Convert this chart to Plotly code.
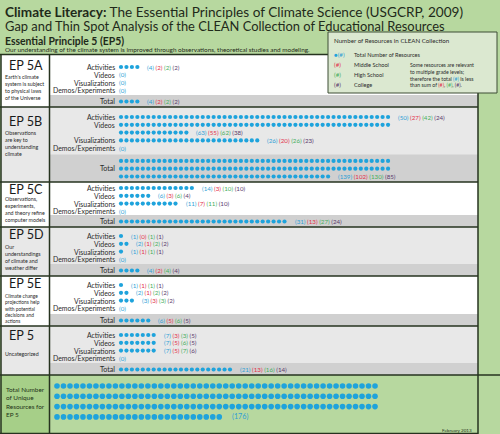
import math
import plotly.graph_objects as go

# ---------------- data ----------------
principle_codes = ["EP 5A", "EP 5B", "EP 5C", "EP 5D", "EP 5E", "EP 5"]
principle_descriptions = [
    ["Earth's climate", "system is subject", "to physical laws", "of the Universe"],
    ["Observations", "are key to", "understanding", "climate"],
    ["Observations,", "experiments,", "and theory refine", "computer models"],
    ["Our", "understandings", "of climate and", "weather differ"],
    ["Climate change", "projections help", "with potential", "decisions and", "actions"],
    ["Uncategorized"],
]
resource_types = ["Activities", "Videos", "Visualizations", "Demos/Experiments"]

total_by_type = [[4, 0, 0, 0], [50, 63, 26, 0], [14, 6, 11, 0],
                 [1, 2, 1, 0], [1, 2, 3, 0], [7, 7, 7, 0]]
middle_by_type = [[2, 0, 0, 0], [27, 55, 20, 0], [3, 3, 7, 0],
                  [0, 1, 1, 0], [1, 1, 3, 0], [3, 5, 5, 0]]
high_by_type = [[2, 0, 0, 0], [42, 62, 26, 0], [10, 6, 11, 0],
                [1, 2, 1, 0], [1, 2, 3, 0], [3, 6, 7, 0]]
college_by_type = [[2, 0, 0, 0], [24, 38, 23, 0], [10, 4, 10, 0],
                   [1, 2, 1, 0], [1, 2, 2, 0], [5, 5, 6, 0]]

section_total = [4, 139, 31, 4, 6, 21]
section_middle = [2, 102, 13, 2, 5, 13]
section_high = [2, 130, 27, 4, 6, 16]
section_college = [2, 85, 24, 4, 5, 14]

unique_total = 176

# ---------------- styling / layout constants ----------------
W, H = 500, 434
GREEN = "#b7d89f"
GREEN_DARK = "#a6cf88"
LINE = "#26331f"
GRAY_L = "#e8e8e8"
GRAY_T = "#d0d0d0"
BLUE = "#1ea3dc"
C_BLUE = "#2f9fd6"
C_RED = "#e2304a"
C_GREEN = "#45ae5c"
C_PURPLE = "#5a3a6c"
TXT = "#2a2a2a"
FONT = "Lato"

section_top = [55, 107, 182, 227, 276, 326]
section_bottom = [107, 182, 227, 276, 326, 375]
section_fill = ["#ffffff", GRAY_L, "#ffffff", GRAY_L, "#ffffff", GRAY_L]
first_row_y = [67, 117, 188, 236, 285, 335]
code_y = [65, 121, 189, 234, 283, 335]
desc_y = [73, 129, 195, 243, 292, 350]
desc_size = [5.3, 5.3, 5.3, 5.3, 4.9, 5.3]
PITCH = 7.8
DOT_X0 = 121
DOT_DX = 5.45
PER_ROW = 50
LABEL_X = 116

shapes = []
annotations = []


def rect(x0, y0, x1, y1, fill, lw=0, lc=None, layer="below"):
    shapes.append(dict(type="rect", xref="x", yref="y", x0=x0, y0=y0, x1=x1, y1=y1,
                       fillcolor=fill, line=dict(width=lw, color=lc or fill), layer=layer))


def line(x0, y0, x1, y1, color=LINE, w=1.5, layer="below"):
    shapes.append(dict(type="line", xref="x", yref="y", x0=x0, y0=y0, x1=x1, y1=y1,
                       line=dict(color=color, width=w), layer=layer))


def text(x, y, s, size, color=TXT, xanchor="left", yanchor="middle", family=FONT, align="left"):
    annotations.append(dict(x=x, y=y, xref="x", yref="y", text=s, showarrow=False,
                            xanchor=xanchor, yanchor=yanchor, align=align,
                            font=dict(size=size, color=color, family=family), borderpad=0))


def counts_text(t, m, h, c):
    if t == 0:
        return f"<span style='color:{C_BLUE}'>(0)</span>"
    return (f"<span style='color:{C_BLUE}'>({t})</span> "
            f"<span style='color:{C_RED}'>({m})</span> "
            f"<span style='color:{C_GREEN}'>({h})</span> "
            f"<span style='color:{C_PURPLE}'>({c})</span>")


dot_x, dot_y = [], []


def add_dots(n, y0):
    """place n dots starting at row y0; return y of last row and x of last dot"""
    for i in range(n):
        dot_x.append(DOT_X0 + DOT_DX * (i % PER_ROW))
        dot_y.append(y0 + PITCH * (i // PER_ROW))
    if n == 0:
        return y0, None
    last = n - 1
    return y0 + PITCH * (last // PER_ROW), DOT_X0 + DOT_DX * (last % PER_ROW)


# ---------------- backgrounds ----------------
for s in range(len(principle_codes)):
    top, bot = section_top[s], section_bottom[s]
    rect(1, top, 478, bot, section_fill[s])

# totals bands
total_rows_y = []
for s in range(len(principle_codes)):
    nrows = max(1, math.ceil(section_total[s] / PER_ROW))
    last_y = section_bottom[s] - 5.5
    ys = [last_y - PITCH * (nrows - 1 - i) for i in range(nrows)]
    total_rows_y.append(ys)
    rect(49.5, ys[0] - 6.5, 478, section_bottom[s], GRAY_T)

# bottom unique section
rect(1, 375, 49.5, 434, GREEN_DARK)

# lines
for s in range(len(principle_codes)):
    line(0, section_bottom[s], 478, section_bottom[s])
line(0, 54.5, 330, 54.5)
line(1, 54.5, 1, 434)
line(49.5, 54.5, 49.5, 434)
line(478, 54.5, 478, 434)
line(478, 375, 500, 375)
line(0, 433.5, 478, 433.5)

# ---------------- rows ----------------
for s in range(len(principle_codes)):
    y = first_row_y[s]
    for k, rtype in enumerate(resource_types):
        n = total_by_type[s][k]
        text(LABEL_X, y, rtype, 6.9, xanchor="right")
        last_y, last_x = add_dots(n, y)
        tx = 118 if last_x is None else last_x + 9
        text(tx, last_y, counts_text(n, middle_by_type[s][k], high_by_type[s][k],
                                     college_by_type[s][k]), 6.2)
        y += PITCH * max(1, math.ceil(n / PER_ROW))
    ys = total_rows_y[s]
    text(LABEL_X, sum(ys) / len(ys), "Total", 7.1, xanchor="right")
    _, last_x = add_dots(section_total[s], ys[0])
    text(last_x + 9, ys[-1], counts_text(section_total[s], section_middle[s],
                                          section_high[s], section_college[s]), 6.2)
    # left column
    text(8, code_y[s], principle_codes[s], 12.6, color="#1a1a1a")
    text(4, desc_y[s], "<br>".join(principle_descriptions[s]), desc_size[s],
         color="#2a2a2a", yanchor="top")

fig = go.Figure()
fig.add_trace(go.Scatter(x=dot_x, y=dot_y, mode="markers",
                         marker=dict(size=4.2, color=BLUE, line=dict(width=0)),
                         hoverinfo="skip", showlegend=False))

# unique total dots
U_X0, U_DX, U_Y0, U_DY = 57, 6.49, 386, 10.3
ux, uy = [], []
for i in range(unique_total):
    ux.append(U_X0 + U_DX * (i % PER_ROW))
    uy.append(U_Y0 + U_DY * (i // PER_ROW))
fig.add_trace(go.Scatter(x=ux, y=uy, mode="markers",
                         marker=dict(size=5.6, color=BLUE, line=dict(width=0)),
                         hoverinfo="skip", showlegend=False))
text(ux[-1] + 12, uy[-1], f"({unique_total})", 7.2, color=C_BLUE)
text(5, 385, "Total Number<br>of Unique<br>Resources for<br>EP 5", 6.4,
     color="#1f3318", yanchor="top")
text(473, 430, "February 2013", 4.6, color="#1f3318", xanchor="right")

# ---------------- header ----------------
text(4, 12, "<b>Climate Literacy:</b> The Essential Principles of Climate Science (USGCRP, 2009)",
     13.6, color="#1f2a1a")
text(4, 26, "Gap and Thin Spot Analysis of the CLEAN Collection of Educational Resources",
     12.9, color="#1f2a1a")
text(4, 41, "<b>Essential Principle 5 (EP5)</b>", 10.4, color="#1f2a1a")
text(4, 49.5, "Our understanding of the climate system is improved through observations, "
     "theoretical studies and modeling.", 6.4, color="#1f2a1a")

# ---------------- legend box ----------------
rect(328, 32, 497, 93, "#dbe8d0", lw=1, lc="#3d4d35", layer="above")
text(333, 40, "Number of Resources in CLEAN Collection", 6.2, color="#2a2a2a")
text(333, 54, f"<span style='color:{BLUE}'>●</span><span style='color:{C_BLUE}'>(#)</span>", 6.2)
text(353, 54, "Total Number of Resources", 5.6)
text(333, 64, f"<span style='color:{C_RED}'>(#)</span>", 6.2)
text(353, 64, "Middle School", 5.6)
text(333, 74, f"<span style='color:{C_GREEN}'>(#)</span>", 6.2)
text(353, 74, "High School", 5.6)
text(333, 84, f"<span style='color:{C_PURPLE}'>(#)</span>", 6.2)
text(353, 84, "College", 5.6)
text(409, 61, "Some resources are relevant<br>to multiple grade levels;<br>therefore the total "
     f"<span style='color:{C_BLUE}'>(#)</span> is less<br>than sum of "
     f"<span style='color:{C_RED}'>(#)</span>, <span style='color:{C_GREEN}'>(#)</span>, "
     f"<span style='color:{C_PURPLE}'>(#)</span>.", 5.2, yanchor="top")

fig.update_layout(
    width=W, height=H, margin=dict(l=0, r=0, t=0, b=0),
    paper_bgcolor=GREEN, plot_bgcolor=GREEN,
    xaxis=dict(range=[0, W], visible=False, fixedrange=True),
    yaxis=dict(range=[H, 0], visible=False, fixedrange=True),
    shapes=shapes, annotations=annotations, showlegend=False,
)
fig.write_html("out.html", config=dict(displayModeBar=False),
               post_script="document.body.style.margin='0';document.body.style.padding='0';")
